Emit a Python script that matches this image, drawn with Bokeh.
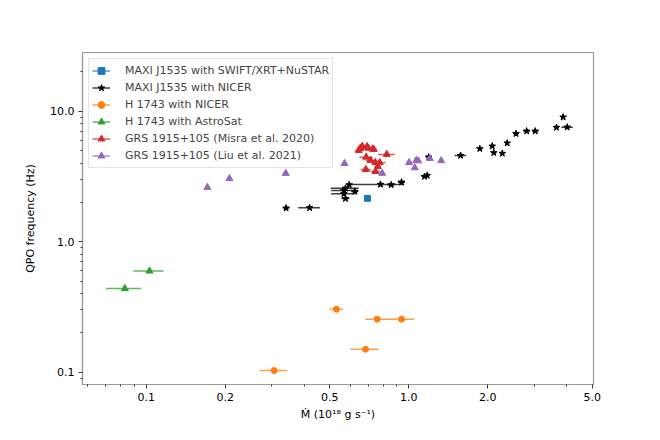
from bokeh.plotting import figure
from bokeh.models import (ColumnDataSource, FixedTicker, CustomJSTickFormatter,
                          Range1d, Legend, LegendItem)
from bokeh.embed import file_html
from bokeh.resources import INLINE

# ---- data ----
swift_x = [0.696]
swift_y = [2.15]
swift_xerr = [0.0]

nicer_x = [0.341, 0.419, 0.574, 0.566, 0.566, 0.574, 0.623, 0.593, 0.78, 0.857, 0.938,
           1.148, 1.175, 1.19, 1.574, 1.864, 2.078, 2.107, 2.27, 2.37, 2.56, 2.81,
           3.03, 3.65, 3.87, 4.01]
nicer_y = [1.81, 1.82, 2.14, 2.33, 2.47, 2.57, 2.43, 2.73, 2.75, 2.73, 2.86,
           3.16, 3.22, 4.45, 4.58, 5.16, 5.40, 4.81, 4.75, 5.70, 6.73, 7.04,
           7.04, 7.51, 9.01, 7.55]
nicer_xerr = [0.01, 0.04, 0.02, 0.06, 0.06, 0.07, 0.02, 0.01, 0.18, 0.03, 0.03,
              0.03, 0.02, 0.02, 0.08, 0.02, 0.02, 0.02, 0.02, 0.03, 0.06, 0.08,
              0.08, 0.03, 0.03, 0.2]

h_nicer_x = [0.307, 0.530, 0.758, 0.938, 0.684]
h_nicer_y = [0.103, 0.304, 0.255, 0.255, 0.150]
h_nicer_xerr = [0.037, 0.032, 0.075, 0.11, 0.085]

h_astro_x = [0.0829, 0.1029]
h_astro_y = [0.438, 0.596]
h_astro_xerr = [0.0126, 0.0135]

misra_x = [0.645, 0.654, 0.665, 0.694, 0.70, 0.729, 0.735, 0.824, 0.688, 0.715,
           0.746, 0.775, 0.762, 0.686, 0.746]
misra_y = [5.01, 5.21, 5.40, 5.37, 5.21, 5.16, 5.10, 4.67, 4.45, 4.20,
           4.05, 4.05, 3.78, 3.58, 3.46]
misra_xerr = [0.02, 0.02, 0.02, 0.02, 0.02, 0.02, 0.02, 0.06, 0.04, 0.03,
              0.03, 0.04, 0.02, 0.03, 0.03]

liu_x = [0.171, 0.2075, 0.340, 0.569, 0.792, 1.003, 1.054, 1.067, 1.086, 1.202, 1.328]
liu_y = [2.61, 3.05, 3.34, 3.98, 3.35, 4.05, 3.69, 4.20, 4.17, 4.35, 4.18]
liu_xerr = [0.0] * len(liu_x)

labels = ["MAXI J1535 with SWIFT/XRT+NuSTAR", "MAXI J1535 with NICER",
          "H 1743 with NICER", "H 1743 with AstroSat",
          "GRS 1915+105 (Misra et al. 2020)", "GRS 1915+105 (Liu et al. 2021)"]

x_major = [0.1, 0.2, 0.5, 1.0, 2.0, 5.0]
x_minor = [0.06, 0.07, 0.08, 0.09, 0.3, 0.4, 0.6, 0.7, 0.8, 0.9, 3.0, 4.0]
y_major = [0.1, 1.0, 10.0]
y_minor = [0.09, 0.2, 0.3, 0.4, 0.5, 0.6, 0.7, 0.8, 0.9,
           2, 3, 4, 5, 6, 7, 8, 9, 20]

FONT = "DejaVu Sans"

p = figure(width=644, height=424, x_axis_type="log", y_axis_type="log",
           x_range=Range1d(0.0572, 5.05), y_range=Range1d(0.0805, 28.2),
           output_backend="svg", toolbar_location=None,
           min_border_left=82, min_border_right=51, min_border_top=52,
           min_border_bottom=40)
p.xgrid.visible = False
p.ygrid.visible = False
p.outline_line_color = "#999999"
p.outline_line_width = 1.2
p.background_fill_color = "white"
p.border_fill_color = "white"

for ax in (p.xaxis[0], p.yaxis[0]):
    ax.axis_line_color = "#999999"
    ax.axis_line_width = 1.2
    ax.major_tick_line_color = "#333333"
    ax.minor_tick_line_color = "#333333"
    ax.major_tick_out = 4
    ax.major_tick_in = 0
    ax.minor_tick_out = 2
    ax.minor_tick_in = 0
    ax.major_label_text_font = FONT
    ax.major_label_text_font_size = "11px"
    ax.major_label_text_color = "black"
    ax.axis_label_text_font = FONT
    ax.axis_label_text_font_size = "11px"
    ax.axis_label_text_font_style = "normal"
    ax.axis_label_text_color = "black"
    ax.formatter = CustomJSTickFormatter(code="return tick.toFixed(1);")

p.xaxis[0].ticker = FixedTicker(ticks=x_major, minor_ticks=x_minor)
p.yaxis[0].ticker = FixedTicker(ticks=y_major, minor_ticks=y_minor)
p.xaxis[0].axis_label = "Ṁ (10¹⁸ g s⁻¹)"
p.yaxis[0].axis_label = "QPO frequency (Hz)"
p.xaxis[0].major_label_standoff = 4
p.yaxis[0].major_label_standoff = 4
p.yaxis[0].axis_label_standoff = 10
p.xaxis[0].axis_label_standoff = 4

series = [
    (swift_x, swift_y, swift_xerr, "#1f77b4", "square", 6),
    (nicer_x, nicer_y, nicer_xerr, "black", "star", 7),
    (h_nicer_x, h_nicer_y, h_nicer_xerr, "#ff7f0e", "circle", 6),
    (h_astro_x, h_astro_y, h_astro_xerr, "#2ca02c", "triangle", 7),
    (misra_x, misra_y, misra_xerr, "#d62728", "triangle", 7),
    (liu_x, liu_y, liu_xerr, "#9467bd", "triangle", 7),
]

items = []
for (xs, ys, xe, col, mk, sz), lab in zip(series, labels):
    src = ColumnDataSource(dict(x=xs, y=ys,
                                xlo=[a - b for a, b in zip(xs, xe)],
                                xhi=[a + b for a, b in zip(xs, xe)]))
    err = p.segment(x0="xlo", y0="y", x1="xhi", y1="y", source=src,
                    line_color=col, line_width=1.5, line_alpha=0.75)
    pts = p.scatter("x", "y", source=src, marker=mk, size=sz,
                    fill_color=col, line_color=col)
    items.append(LegendItem(label=lab, renderers=[err, pts], index=0))

legend = Legend(items=items, location="top_left")
legend.margin = 6
legend.padding = 3
legend.spacing = 0
legend.label_height = 17
legend.glyph_height = 17
legend.glyph_width = 18
legend.label_standoff = 15
legend.label_text_font = FONT
legend.label_text_font_size = "11px"
legend.border_line_color = "#cccccc"
legend.border_line_width = 1
legend.background_fill_alpha = 0.8
p.add_layout(legend)

open("out.html", "w").write(file_html(p, INLINE))
